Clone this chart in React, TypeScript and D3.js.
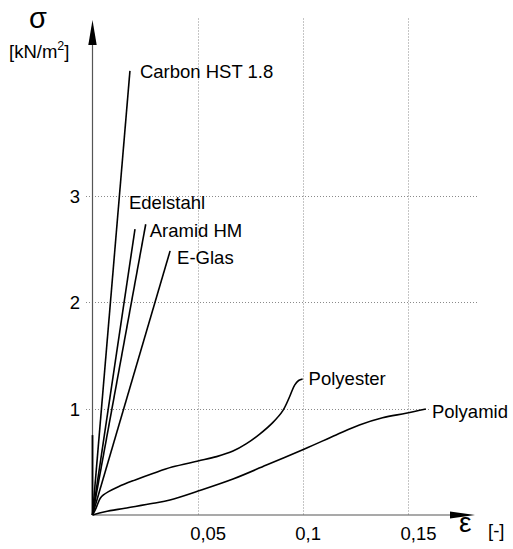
import React from "react";
import * as d3 from "d3";

// strain [-] / stress values
const xTicks = [0.05, 0.1, 0.15];
const xTickLabels = ["0,05", "0,1", "0,15"];
const yTicks = [1, 2, 3];
const yTickLabels = ["1", "2", "3"];

const carbon: [number, number][] = [[0, 0], [0.0178, 4.17]];
const edelstahl: [number, number][] = [[0, 0], [0.0202, 2.685]];
const aramid: [number, number][] = [[0, 0], [0.0253, 2.73]];
const eGlas: [number, number][] = [[0, 0], [0.0369, 2.48]];
const steep: [number, number][] = [[0, 0], [0, 0.75]];
const polyester: [number, number][] = [
  [0, 0], [0.0013, 0.047], [0.0026, 0.11], [0.0037, 0.157], [0.0052, 0.188],
  [0.0076, 0.219], [0.0123, 0.266], [0.0203, 0.329], [0.029, 0.392],
  [0.0378, 0.45], [0.0502, 0.507], [0.059, 0.548], [0.0668, 0.6],
  [0.0732, 0.67], [0.0795, 0.76], [0.0858, 0.87], [0.0905, 0.98],
  [0.0937, 1.11], [0.0961, 1.22], [0.098, 1.263], [0.0999, 1.277],
];
const polyamid: [number, number][] = [
  [0, 0], [0.0059, 0.031], [0.0154, 0.064], [0.0289, 0.11], [0.0368, 0.141],
  [0.0502, 0.225], [0.0668, 0.338], [0.0827, 0.469], [0.1008, 0.62],
  [0.1158, 0.751], [0.1269, 0.845], [0.1379, 0.913], [0.149, 0.955],
  [0.1585, 0.995],
];

const straight = [
  { name: "Carbon HST 1.8", data: carbon, dx: 10, dy: 7 },
  { name: "Edelstahl", data: edelstahl, dx: -6, dy: -20 },
  { name: "Aramid HM", data: aramid, dx: 4, dy: 13 },
  { name: "E-Glas", data: eGlas, dx: 7, dy: 13 },
];

const font = "'Liberation Sans', Arial, sans-serif";

const App = () => {
  const x = d3.scaleLinear().domain([0, 0.15]).range([92.5, 408]);
  const y = d3.scaleLinear().domain([0, 4]).range([515, 89]);

  const lin = d3.line<[number, number]>().x((d) => x(d[0])).y((d) => y(d[1]));
  const smooth = d3
    .line<[number, number]>()
    .x((d) => x(d[0]))
    .y((d) => y(d[1]))
    .curve(d3.curveCatmullRom.alpha(0.5));

  const x0 = x(0);
  const y0 = y(0);
  const last = (d: [number, number][]) => d[d.length - 1];

  return (
    <svg
      width={513}
      height={549}
      style={{ position: "absolute", left: 0, top: 0, background: "#fff" }}
      fontFamily={font}
    >
      {/* grid */}
      <g stroke="#8a8a8a" strokeWidth={1} strokeDasharray="1 2">
        {xTicks.map((t) => (
          <line key={t} x1={Math.round(x(t)) + 0.5} x2={Math.round(x(t)) + 0.5} y1={18.5} y2={y0} />
        ))}
        {yTicks.map((t) => (
          <line key={t} x1={86} x2={477} y1={Math.round(y(t)) + 0.5} y2={Math.round(y(t)) + 0.5} />
        ))}
      </g>

      {/* axes */}
      <line x1={x0} x2={451} y1={y0} y2={y0} stroke="#555" strokeWidth={1.2} />
      <line x1={x0} x2={x0} y1={y0} y2={45} stroke="#555" strokeWidth={1.2} />
      <path d={`M${x0 - 4.2},45 L${x0},20 L${x0 + 4.2},45 Z`} fill="#000" />
      <path d={`M450,${y0 - 3.6} L475,${y0} L450,${y0 + 3.6} Z`} fill="#000" />

      {/* tick labels */}
      <g fontSize={18.5} fill="#000">
        {xTicks.map((t, i) => (
          <text key={t} x={x(t) - 7.5} y={540}>
            {xTickLabels[i]}
          </text>
        ))}
        {yTicks.map((t, i) => (
          <text key={t} x={80} y={y(t) + 7} textAnchor="end">
            {yTickLabels[i]}
          </text>
        ))}
      </g>

      {/* axis titles */}
      <text x={38} y={28} fontSize={29} textAnchor="middle">σ</text>
      <text x={9} y={58} fontSize={18.5}>
        [kN/m<tspan fontSize={12.5} dy={-8}>2</tspan>
        <tspan dy={8}>]</tspan>
      </text>
      <text x={459} y={532} fontSize={28}>ε</text>
      <text x={488} y={537} fontSize={18.5}>[-]</text>

      {/* curves */}
      <g fill="none" stroke="#000" strokeWidth={1.6} strokeLinejoin="round">
        {straight.map((s) => (
          <path key={s.name} d={lin(s.data) ?? ""} />
        ))}
        <path d={lin(steep) ?? ""} strokeWidth={1.8} />
        <path d={smooth(polyester) ?? ""} />
        <path d={smooth(polyamid) ?? ""} />
      </g>

      {/* labels */}
      <g fontSize={18.5} fill="#000">
        {straight.map((s) => (
          <text key={s.name} x={x(last(s.data)[0]) + s.dx} y={y(last(s.data)[1]) + s.dy}>
            {s.name}
          </text>
        ))}
        <rect x={x(last(polyester)[0]) + 5} y={370} width={82} height={18} fill="#fff" />
        <text x={x(last(polyester)[0]) + 6} y={385}>Polyester</text>
        <rect x={x(last(polyamid)[0]) + 5} y={403} width={80} height={18} fill="#fff" />
        <text x={x(last(polyamid)[0]) + 6} y={418}>Polyamid</text>
      </g>
    </svg>
  );
};

export default App;
